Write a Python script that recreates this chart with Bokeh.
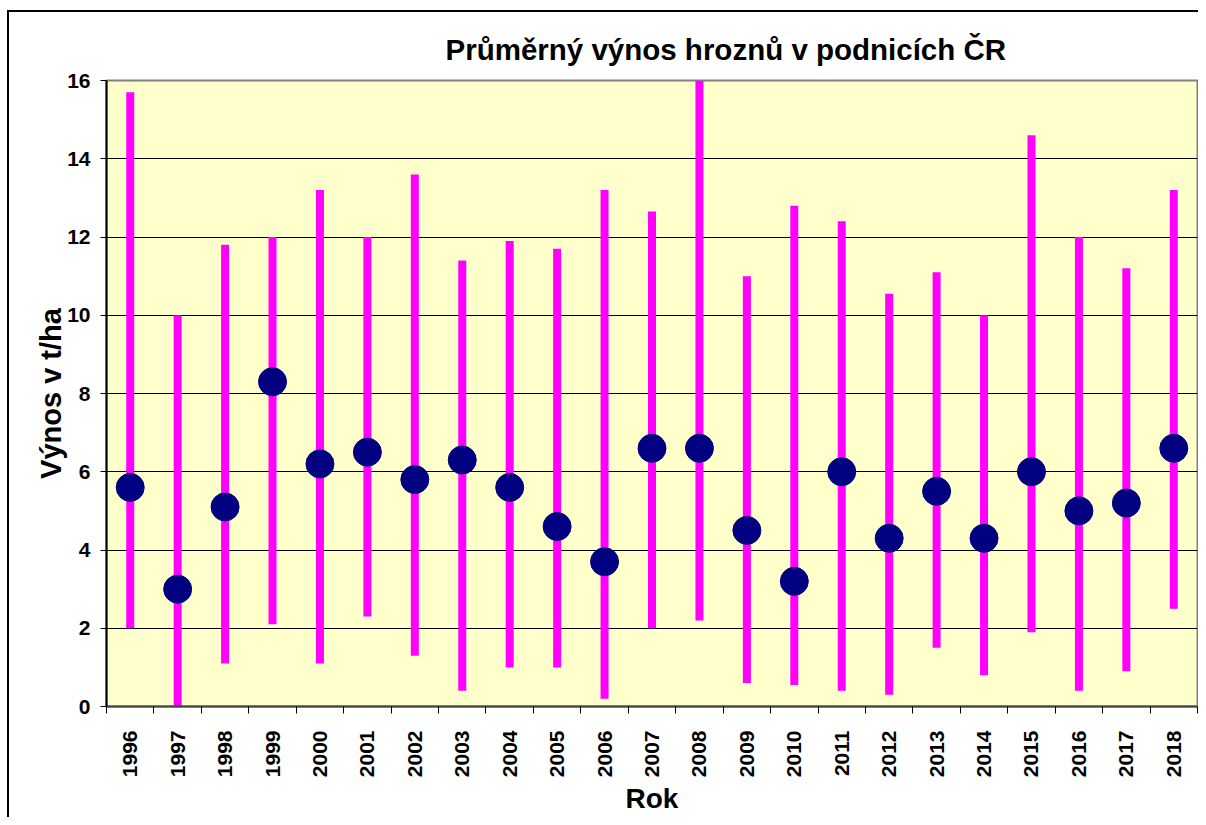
import math
from bokeh.plotting import figure
from bokeh.models import Range1d, FixedTicker, ColumnDataSource
from bokeh.embed import file_html
from bokeh.resources import INLINE

years = [1996, 1997, 1998, 1999, 2000, 2001, 2002, 2003, 2004, 2005, 2006, 2007,
         2008, 2009, 2010, 2011, 2012, 2013, 2014, 2015, 2016, 2017, 2018]
prumer = [5.6, 3.0, 5.1, 8.3, 6.2, 6.5, 5.8, 6.3, 5.6, 4.6, 3.7, 6.6,
          6.6, 4.5, 3.2, 6.0, 4.3, 5.5, 4.3, 6.0, 5.0, 5.2, 6.6]
maximum = [15.7, 10.0, 11.8, 12.0, 13.2, 12.0, 13.6, 11.4, 11.9, 11.7, 13.2, 12.65,
           16.0, 11.0, 12.8, 12.4, 10.55, 11.1, 10.0, 14.6, 12.0, 11.2, 13.2]
minimum = [2.0, 0.0, 1.1, 2.1, 1.1, 2.3, 1.3, 0.4, 1.0, 1.0, 0.2, 2.0,
           2.2, 0.6, 0.55, 0.4, 0.3, 1.5, 0.8, 1.9, 0.4, 0.9, 2.5]
y_ticks = [0, 2, 4, 6, 8, 10, 12, 14, 16]

title_text = "Průměrný výnos hroznů v podnicích ČR"
x_label = "Rok"
y_label = "Výnos v t/ha"

FONT = "Liberation Sans"

src = ColumnDataSource(dict(x=years, mean=prumer, hi=maximum, lo=minimum))

p = figure(width=1198, height=817, output_backend="svg", toolbar_location=None,
           x_range=Range1d(years[0] - 0.5, years[-1] + 0.5), y_range=Range1d(0, 16),
           min_border_left=106, min_border_right=1, min_border_top=80, min_border_bottom=110,
           background_fill_color="#FFFFCC", border_fill_color=None)

# outer chart border: left and top edges drawn on the (transparent) canvas host
p.styles = {
    "background": "linear-gradient(#000, #000) 7px 10px / 2px 2000px no-repeat, "
                  "linear-gradient(#000, #000) 7px 10px / 2000px 2px no-repeat, #ffffff"
}

p.title.text = title_text
p.title.text_font = FONT
p.title.text_font_style = "bold"
p.title.text_font_size = "29.5px"
p.title.align = "left"
p.title.offset = 339
p.title.standoff = 30
p.title.text_color = "black"

p.outline_line_color = "#808080"
p.outline_line_width = 2

# grid
p.xgrid.grid_line_color = None
p.ygrid.ticker = FixedTicker(ticks=y_ticks)
p.ygrid.grid_line_color = "black"
p.ygrid.grid_line_width = 1

# y axis
ya = p.yaxis[0]
ya.ticker = FixedTicker(ticks=y_ticks)
ya.axis_line_color = "black"
ya.axis_line_width = 2
ya.major_tick_line_color = "black"
ya.major_tick_line_width = 1
ya.major_tick_out = 6
ya.major_tick_in = 0
ya.minor_tick_line_color = None
ya.major_label_text_font = FONT
ya.major_label_text_font_style = "bold"
ya.major_label_text_font_size = "21px"
ya.major_label_text_color = "black"
ya.major_label_standoff = 10
ya.axis_label = y_label
ya.axis_label_text_font = FONT
ya.axis_label_text_font_style = "bold"
ya.axis_label_text_font_size = "29px"
ya.axis_label_text_color = "black"
ya.axis_label_standoff = -3

# x axis
xa = p.xaxis[0]
bounds = [y - 0.5 for y in years] + [years[-1] + 0.5]
xa.ticker = FixedTicker(ticks=years, minor_ticks=bounds)
xa.major_label_overrides = {y: str(y) for y in years}
xa.axis_line_color = "#404040"
xa.axis_line_width = 2
xa.major_tick_line_color = None
xa.major_tick_out = 0
xa.major_tick_in = 0
xa.minor_tick_line_color = "black"
xa.minor_tick_line_width = 1
xa.minor_tick_out = 7
xa.minor_tick_in = 0
xa.major_label_orientation = math.pi / 2
xa.major_label_text_font = FONT
xa.major_label_text_font_style = "bold"
xa.major_label_text_font_size = "21px"
xa.major_label_text_color = "black"
xa.major_label_standoff = 17
xa.axis_label = x_label
xa.axis_label_text_font = FONT
xa.axis_label_text_font_style = "bold"
xa.axis_label_text_font_size = "28px"
xa.axis_label_text_color = "black"
xa.axis_label_standoff = 3

p.segment(x0="x", y0="lo", x1="x", y1="hi", source=src, line_color="#FF00FF", line_width=8)
p.scatter(x="x", y="mean", source=src, size=28, fill_color="#000080", line_color="#000080")

open("out.html", "w").write(file_html(p, INLINE))
